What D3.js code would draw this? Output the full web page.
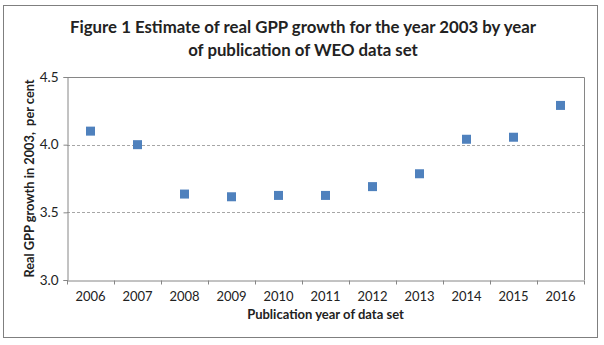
<!DOCTYPE html>
<html>
<head>
<meta charset="utf-8">
<script src="https://cdn.jsdelivr.net/npm/d3@7"></script>
<style>
  body { margin: 0; background: white; }
  text { font-family: Lato, 'Open Sans', sans-serif; }
</style>
</head>
<body>
<svg id="chart" width="604" height="345"></svg>
<script>
/* DATA */

const years = ['2006', '2007', '2008', '2009', '2010', '2011', '2012', '2013', '2014', '2015', '2016']
const growth = [4.10, 4.00, 3.635, 3.615, 3.625, 3.625, 3.69, 3.785, 4.04, 4.055, 4.29]
const yTicks = [3.0, 3.5, 4.0, 4.5]

const titleLines = ['Figure 1 Estimate of real GPP growth for the year 2003 by year', 'of publication of WEO data set']

/* COLOURS */

const markerBlue = '#4f81bd'
const axisGrey = '#868686'
const gridGrey = '#a6a6a6'
const textColour = '#222'

/* LAYOUT */

const svg = d3.select('#chart')
const plot = { left: 67, top: 77, right: 584, bottom: 280 }

// Outer frame
svg.append('rect')
  .attr('x', 3.5)
  .attr('y', 5.5)
  .attr('width', 594)
  .attr('height', 332)
  .attr('fill', 'white')
  .attr('stroke', '#7f7f7f')
  .attr('stroke-width', 1)

// Title
svg.append('g')
  .selectAll('text')
  .data(titleLines)
  .enter().append('text')
  .attr('x', 303)
  .attr('y', (d, i) => 33 + i * 23)
  .attr('text-anchor', 'middle')
  .attr('font-size', 16.8)
  .attr('font-weight', 'bold')
  .attr('fill', textColour)
  .text(d => d)

/* SCALES */

const x = d3.scaleBand()
  .domain(years)
  .range([plot.left, plot.right])

const y = d3.scaleLinear()
  .domain([3.0, 4.5])
  .range([plot.bottom, plot.top])

/* GRIDLINES */

svg.append('g')
  .selectAll('line')
  .data(yTicks.filter(d => d > 3.0 && d < 4.5))
  .enter().append('line')
  .attr('x1', plot.left)
  .attr('x2', plot.right)
  .attr('y1', d => Math.round(y(d)) + 0.5)
  .attr('y2', d => Math.round(y(d)) + 0.5)
  .attr('stroke', gridGrey)
  .attr('stroke-dasharray', '3,2')

// Top and right border of plot area
svg.append('path')
  .attr('d', `M${plot.left},${plot.top + 0.5}H${plot.right + 0.5}V${plot.bottom}`)
  .attr('fill', 'none')
  .attr('stroke', axisGrey)

/* AXES */

// Y axis
const yAxis = svg.append('g')
  .attr('transform', `translate(${plot.left + 0.5},0)`)
  .call(d3.axisLeft(y).tickValues(yTicks).tickFormat(d3.format('.1f')).tickSize(4).tickPadding(5))

yAxis.select('.domain').attr('stroke', axisGrey)
yAxis.selectAll('.tick line').attr('stroke', axisGrey)
yAxis.selectAll('.tick text')
  .attr('font-size', 13.5)
  .attr('fill', textColour)
  .style('font-family', 'Lato, sans-serif')

// X axis: labels centred in bands, ticks on band edges
const xAxis = svg.append('g')
  .attr('transform', `translate(0,${plot.bottom + 0.5})`)
  .call(d3.axisBottom(x).tickSize(0).tickPadding(11))

xAxis.select('.domain').attr('stroke', axisGrey)
xAxis.selectAll('.tick text')
  .attr('font-size', 13)
  .attr('fill', textColour)
  .style('font-family', 'Lato, sans-serif')

xAxis.selectAll('.edge')
  .data(years.concat(['end']))
  .enter().append('line')
  .attr('class', 'edge')
  .attr('x1', (d, i) => Math.round(plot.left + i * x.bandwidth()) + 0.5)
  .attr('x2', (d, i) => Math.round(plot.left + i * x.bandwidth()) + 0.5)
  .attr('y1', 0)
  .attr('y2', 4)
  .attr('stroke', axisGrey)

/* AXIS TITLES */

svg.append('text')
  .attr('x', (plot.left + plot.right) / 2)
  .attr('y', 319)
  .attr('text-anchor', 'middle')
  .attr('font-size', 13)
  .attr('font-weight', 'bold')
  .attr('fill', textColour)
  .text('Publication year of data set')

svg.append('text')
  .attr('transform', `translate(34,${(plot.top + plot.bottom) / 2}) rotate(-90)`)
  .attr('text-anchor', 'middle')
  .attr('font-size', 12.8)
  .attr('font-weight', 'bold')
  .attr('fill', textColour)
  .attr('xml:space', 'preserve')
  .text('Real GPP growth in 2003,  per cent')

/* MARKERS */

const size = 9

svg.append('g')
  .selectAll('rect')
  .data(growth)
  .enter().append('rect')
  .attr('x', (d, i) => x(years[i]) + x.bandwidth() / 2 - size / 2)
  .attr('y', d => y(d) - size / 2)
  .attr('width', size)
  .attr('height', size)
  .attr('fill', markerBlue)
</script>
</body>
</html>
